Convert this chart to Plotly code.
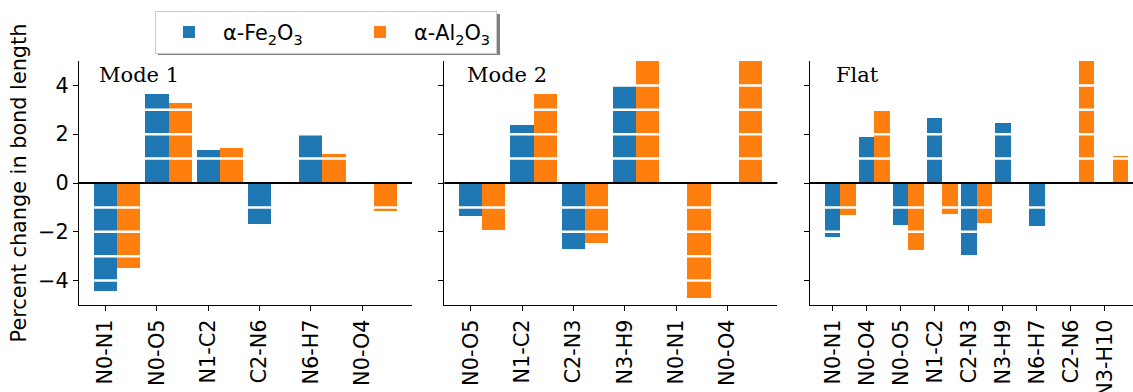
import plotly.graph_objects as go

# ---------------- data ----------------
mode1_labels = ["N0-N1", "N0-O5", "N1-C2", "C2-N6", "N6-H7", "N0-O4"]
mode1_fe = [-4.42, 3.65, 1.36, -1.70, 1.96, 0.0]
mode1_al = [-3.47, 3.29, 1.44, 0.0, 1.18, -1.16]

mode2_labels = ["N0-O5", "N1-C2", "C2-N3", "N3-H9", "N0-N1", "N0-O4"]
mode2_fe = [-1.36, 2.38, -2.69, 3.96, 0.0, 0.0]
mode2_al = [-1.91, 3.66, -2.45, 5.4, -4.71, 5.6]

flat_labels = ["N0-N1", "N0-O4", "N0-O5", "N1-C2", "C2-N3", "N3-H9", "N6-H7", "C2-N6", "N3-H10"]
flat_fe = [-2.20, 1.88, -1.74, 2.67, -2.96, 2.46, -1.78, 0.0, 0.0]
flat_al = [-1.33, 3.05, -2.73, -1.29, -1.62, 0.0, 0.0, 5.5, 1.10]

panel_titles = ["Mode 1", "Mode 2", "Flat"]
series_names = ["α-Fe<sub>2</sub>O<sub>3</sub>", "α-Al<sub>2</sub>O<sub>3</sub>"]
y_tick_vals = [-4, -2, 0, 2, 4]
y_tick_text = ["−4", "−2", "0", "2", "4"]
grid_vals = [-4, -3, -2, -1, 1, 2, 3, 4]

# ---------------- style / layout ----------------
FE_COLOR = "#1f77b4"
AL_COLOR = "#ff7f0e"
W = 0.45
FONT = "DejaVu Sans"
FS = 20.8
WIDTH, HEIGHT = 1133, 392
ML, MR, MT, MB = 79, 0, 61, 87
PLOT_W = WIDTH - ML - MR
PANEL_PX = 333.0
panel_left_px = [79.0, 444.3, 810.0]
title_shift = [18, 21, 24]

panels = [
    (mode1_labels, mode1_fe, mode1_al),
    (mode2_labels, mode2_fe, mode2_al),
    (flat_labels, flat_fe, flat_al),
]

fig = go.Figure()
layout_axes = {}
shapes = []
annotations = []

for p, (labels, fe, al) in enumerate(panels):
    n = len(labels)
    xs = list(range(n))
    xa = "x" if p == 0 else f"x{p+1}"
    ya = "y" if p == 0 else f"y{p+1}"
    fe_kw = dict(legendwidth=118) if p == 0 else {}
    fig.add_trace(go.Bar(
        x=xs, y=fe, width=W, name=series_names[0], marker_color=FE_COLOR,
        marker_line_width=0, xaxis=xa, yaxis=ya, showlegend=(p == 0),
        legendgroup="fe", **fe_kw))
    fig.add_trace(go.Bar(
        x=[v + W for v in xs], y=al, width=W, name=series_names[1],
        marker_color=AL_COLOR, marker_line_width=0, xaxis=xa, yaxis=ya,
        showlegend=(p == 0), legendgroup="al"))

    lo = -W / 2
    hi = (n - 1) + 1.5 * W
    span = hi - lo
    rlo, rhi = lo - 0.05 * span, hi + 0.05 * span
    left = panel_left_px[p]
    right = min(left + PANEL_PX, WIDTH - MR)
    frac = (right - left) / PANEL_PX
    rhi_vis = rlo + (rhi - rlo) * frac
    d0 = (left - ML) / PLOT_W
    d1 = (right - ML) / PLOT_W

    xkey = "xaxis" if p == 0 else f"xaxis{p+1}"
    ykey = "yaxis" if p == 0 else f"yaxis{p+1}"
    layout_axes[xkey] = dict(
        domain=[d0, min(d1, 1.0)], range=[rlo, rhi_vis], anchor=ya,
        tickvals=xs, ticktext=labels, tickangle=-90, automargin=False,
        showline=True, linecolor="black", linewidth=1.2,
        ticks="outside", ticklen=5, tickwidth=1, tickcolor="black",
        showgrid=False, zeroline=False,
        tickfont=dict(family=FONT, size=FS, color="black"),
    )
    layout_axes[ykey] = dict(
        domain=[0, 1], range=[-5, 5], anchor=xa, automargin=False,
        tickvals=y_tick_vals, ticktext=y_tick_text,
        showticklabels=(p == 0),
        showline=True, linecolor="black", linewidth=1.2,
        ticks="outside", ticklen=5, tickwidth=1, tickcolor="black",
        showgrid=False, zeroline=False,
        tickfont=dict(family=FONT, size=FS, color="black"),
    )
    if p == 0:
        layout_axes[ykey]["title"] = dict(
            text="Percent change in bond length",
            font=dict(family=FONT, size=FS, color="black"), standoff=5)
    else:
        layout_axes[ykey]["matches"] = "y"

    xdom = "x domain" if p == 0 else f"x{p+1} domain"
    for g in grid_vals:
        shapes.append(dict(type="line", xref=xdom, yref=ya, x0=0.006, x1=1,
                           y0=g, y1=g, line=dict(color="white", width=2.5),
                           layer="above"))
    shapes.append(dict(type="line", xref=xdom, yref=ya, x0=0, x1=1,
                       y0=0, y1=0, line=dict(color="black", width=2),
                       layer="above"))
    annotations.append(dict(
        text=panel_titles[p], xref=xdom, yref=f"{ya} domain" if p else "y domain",
        x=0, y=1.0, xanchor="left", yanchor="top", xshift=title_shift[p],
        showarrow=False, font=dict(family="DejaVu Serif", size=21, color="black")))

# legend shadow (paper coords)
def px_to_paper_x(px):
    return (px - ML) / PLOT_W

def px_to_paper_y(py):
    return (HEIGHT - MB - py) / (HEIGHT - MT - MB)

shapes.append(dict(type="rect", xref="paper", yref="paper",
                   x0=px_to_paper_x(158), x1=px_to_paper_x(500),
                   y0=px_to_paper_y(55), y1=px_to_paper_y(14),
                   fillcolor="#7f7f7f", line=dict(width=0), layer="above"))

fig.update_layout(
    width=WIDTH, height=HEIGHT,
    margin=dict(l=ML, r=MR, t=MT, b=MB, autoexpand=False),
    paper_bgcolor="white", plot_bgcolor="white",
    barmode="overlay", bargap=0,
    font=dict(family=FONT, size=FS, color="black"),
    shapes=shapes, annotations=annotations,
    legend=dict(
        orientation="h", x=px_to_paper_x(155), y=px_to_paper_y(11),
        xanchor="left", yanchor="top", bgcolor="white",
        bordercolor="#cccccc", borderwidth=1,
        font=dict(family=FONT, size=FS, color="black"),
        itemwidth=58,
    ),
    **layout_axes,
)

fig.write_html("out.html")
